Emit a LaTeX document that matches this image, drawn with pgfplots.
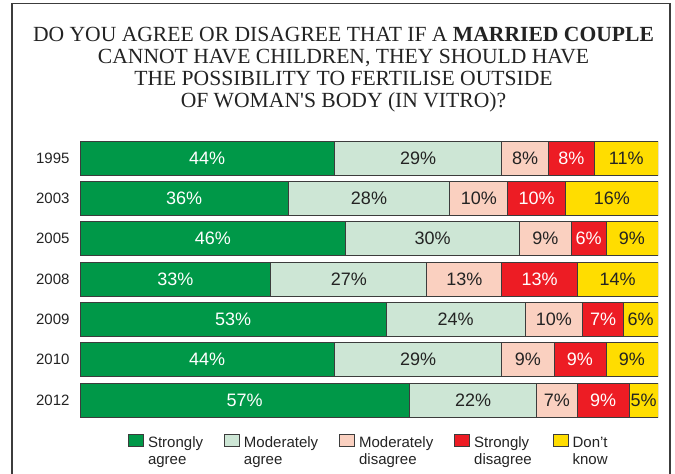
\documentclass[border=0pt]{standalone}
\usepackage{pgfplots}
\pgfplotsset{compat=1.18}
\usepackage{pgfplotstable}
\usepackage{fontspec}
\setmainfont{Liberation Sans}
\newfontfamily\titlefont{Liberation Serif}
\definecolor{sagree}{RGB}{0,152,72}
\definecolor{magree}{RGB}{205,230,213}
\definecolor{mdis}{RGB}{250,208,192}
\definecolor{sdis}{RGB}{237,28,36}
\definecolor{dknow}{RGB}{255,221,0}
\definecolor{edge}{RGB}{60,60,60}
\definecolor{txt}{RGB}{35,35,35}
\pgfplotstableread{
y sa ma md sd dk
0 44 29 8 8 11
1 36 28 10 10 16
2 46 30 9 6 9
3 33 27 13 13 14
4 53 24 10 7 6
5 44 29 9 9 9
6 57 22 7 9 5
}\data
\begin{document}
\begin{tikzpicture}[x=1pt,y=1pt]
\useasboundingbox (0,0) rectangle (675,474);
\draw[edge, line width=1.2pt] (12,-2) -- (12,470.5) -- (670,470.5) -- (670,-2);
\node[font=\titlefont\fontsize{21.6}{22}\selectfont, align=center, anchor=north, inner sep=0pt, text=txt] at (343.5,446.5) {DO YOU AGREE OR DISAGREE THAT IF A \textbf{MARRIED COUPLE}\\CANNOT HAVE CHILDREN, THEY SHOULD HAVE\\THE POSSIBILITY TO FERTILISE OUTSIDE\\OF WOMAN'S BODY (IN VITRO)?};
\begin{axis}[
  at={(80pt,53.8pt)}, anchor=south west,
  scale only axis, width=578pt, height=282.3pt,
  xbar stacked, bar width=34pt,
  xmin=0, xmax=100, ymin=-0.5, ymax=6.5, y dir=reverse,
  xtick=\empty, ytick={0,...,6}, yticklabels={1995,2003,2005,2008,2009,2010,2012},
  axis line style={draw=none}, major tick length=0pt,
  yticklabel style={font=\fontsize{15}{18}\selectfont, text=txt, xshift=-7pt},
  every axis plot/.append style={draw=edge, line width=0.9pt},
  visualization depends on={rawx \as \rawx},
  nodes near coords={\pgfmathprintnumber[fixed, precision=0, assume math mode=true]{\rawx}\%},
  every node near coord/.append style={anchor=center, font=\fontsize{18}{20}\selectfont, text=txt},
  legend columns=5,
  legend style={at={(axis description cs:0.083,-0.0453)}, anchor=north west, draw=none, fill=none, inner sep=0pt, column sep=0pt, font=\fontsize{15}{17}\selectfont, cells={anchor=base west, inner sep=0pt, text=txt}},
  legend image code/.code={\draw[#1, line width=0.9pt] (0pt,0.5pt) rectangle (15pt,12.5pt);},
]
\addplot[fill=sagree, nodes near coords style={text=white}] table[x=sa,y=y]{\data};
\addlegendentry{\begin{tabular}[t]{@{\hspace{2pt}}l@{\hspace{19pt}}}Strongly\\agree\end{tabular}}
\addplot[fill=magree] table[x=ma,y=y]{\data};
\addlegendentry{\begin{tabular}[t]{@{\hspace{2pt}}l@{\hspace{19pt}}}Moderately\\agree\end{tabular}}
\addplot[fill=mdis] table[x=md,y=y]{\data};
\addlegendentry{\begin{tabular}[t]{@{\hspace{2pt}}l@{\hspace{19pt}}}Moderately\\disagree\end{tabular}}
\addplot[fill=sdis, nodes near coords style={text=white}] table[x=sd,y=y]{\data};
\addlegendentry{\begin{tabular}[t]{@{\hspace{2pt}}l@{\hspace{19pt}}}Strongly\\disagree\end{tabular}}
\addplot[fill=dknow] table[x=dk,y=y]{\data};
\addlegendentry{\begin{tabular}[t]{@{\hspace{2pt}}l@{}}Don't\\know\end{tabular}}
\end{axis}
\end{tikzpicture}
\end{document}
